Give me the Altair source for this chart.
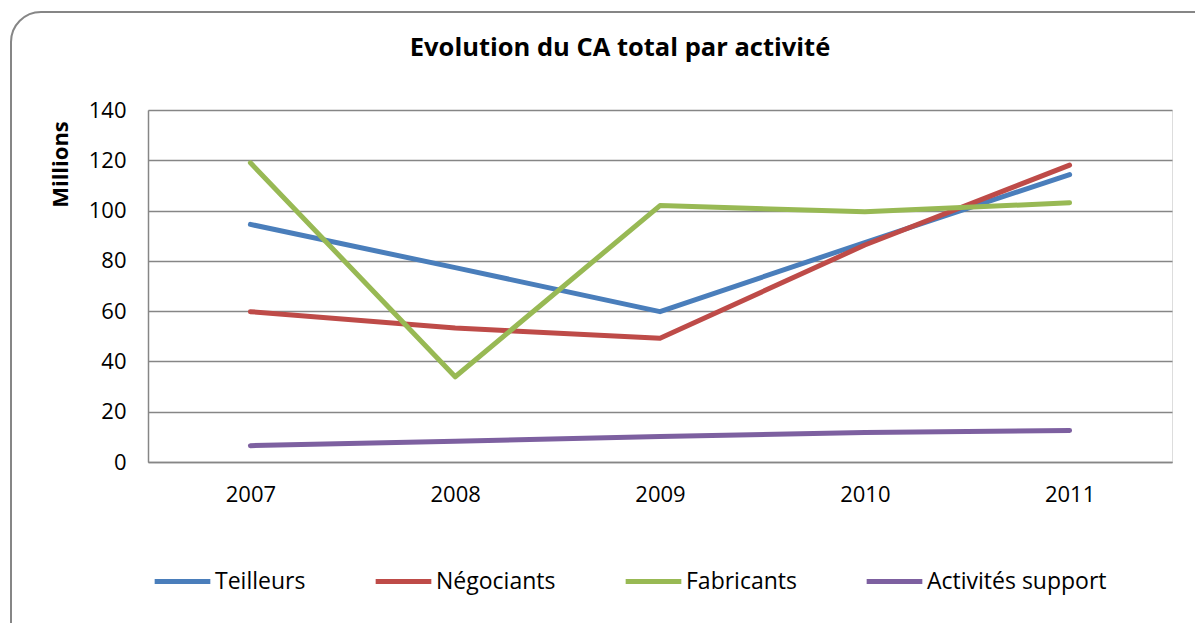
import altair as alt
import pandas as pd

years = ["2007", "2008", "2009", "2010", "2011"]
series = ["Teilleurs", "Négociants", "Fabricants", "Activités support"]
teilleurs = [94.5, 77.3, 59.8, 87.3, 114.3]
negociants = [59.8, 53.3, 49.2, 86.3, 118.1]
fabricants = [119.0, 33.9, 102.0, 99.5, 103.1]
support = [6.5, 8.3, 10.1, 11.7, 12.5]
colors = ["#4A7EBB", "#BE4B48", "#98B954", "#7D60A0"]

rows = []
for name, vals in zip(series, [teilleurs, negociants, fabricants, support]):
    for y, v in zip(years, vals):
        rows.append({"Année": y, "Série": name, "CA": v})
df = pd.DataFrame(rows)

FONT = "Open Sans"
W, H = 1024, 352

frame = alt.Chart(alt.Data(values=[{"k": 1}])).mark_rect(
    fill="transparent", stroke="#868686", strokeWidth=2, cornerRadius=30
).encode(
    x=alt.value(-137), x2=alt.value(W + 200),
    y=alt.value(-98), y2=alt.value(H + 300)
)

lines = alt.Chart(df).mark_line(strokeWidth=5, strokeCap="round", strokeJoin="round").encode(
    x=alt.X("Année:O", scale=alt.Scale(type="point", padding=0.5), sort=years,
            axis=alt.Axis(title=None, labelAngle=0, ticks=False, grid=False,
                          domainColor="#868686", domainWidth=1.5,
                          labelFont=FONT, labelFontSize=22, labelColor="black",
                          labelPadding=22, labelBaseline="top")),
    y=alt.Y("CA:Q", scale=alt.Scale(domain=[0, 140], nice=False),
            axis=alt.Axis(title="Millions", values=list(range(0, 141, 20)), ticks=False,
                          grid=True, gridColor="#868686", gridWidth=1.5,
                          domainColor="#868686", domainWidth=1.5,
                          labelFont=FONT, labelFontSize=22, labelColor="black",
                          labelPadding=22,
                          titleFont=FONT, titleFontSize=22, titleFontWeight="bold",
                          titleColor="black", titleAngle=270, titleX=-88, titleY=54,
                          titleAlign="center", titleBaseline="middle")),
    color=alt.Color("Série:N", sort=series,
                    scale=alt.Scale(domain=series, range=colors),
                    legend=alt.Legend(title=None, orient="none", direction="horizontal",
                                      legendX=4, legendY=441, symbolType="stroke",
                                      symbolSize=3100, symbolStrokeWidth=5,
                                      labelFont=FONT, labelFontSize=23, labelColor="black",
                                      labelOffset=2, columnPadding=59, gridAlign="none",
                                      labelLimit=400)),
    detail="Série:N",
)

chart = alt.layer(frame, lines).properties(
    width=W, height=H,
    autosize=alt.AutoSizeParams(type="none"),
    padding={"left": 140, "top": 102, "right": 23, "bottom": 161},
    title=alt.TitleParams("Evolution du CA total par activité", font=FONT, fontSize=25.5,
                          fontWeight="bold", color="black", anchor="middle",
                          dx=-40, offset=-70, baseline="alphabetic"),
).configure_view(stroke=None).configure(background="white")

chart.save("out.html", embed_options={"renderer": "svg", "actions": False})
